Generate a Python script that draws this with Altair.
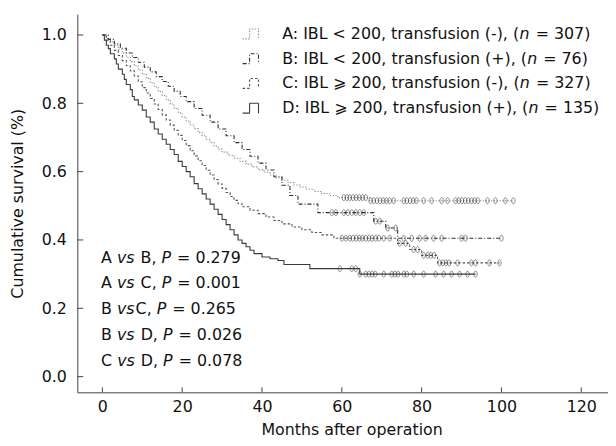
import altair as alt
import pandas as pd

FONT = "DejaVu Sans"

# ---------------- data ----------------
groups = ["A", "B", "C", "D"]

a_time = [0, 1, 2, 3, 4, 5, 6, 7, 8, 9, 10, 11, 12, 13, 14, 15, 16, 17, 18, 19, 20, 21, 22, 23, 24, 25, 26, 27, 28, 29, 30, 31.5, 33, 34.5, 36, 37.5, 39, 40.5, 42, 43.5, 45, 46.5, 48, 49.5, 51, 53, 55, 57, 59, 67]
a_surv = [1.0, 0.99, 0.98, 0.97, 0.958, 0.947, 0.935, 0.922, 0.91, 0.897, 0.885, 0.873, 0.86, 0.848, 0.835, 0.823, 0.81, 0.798, 0.785, 0.772, 0.76, 0.748, 0.737, 0.726, 0.715, 0.705, 0.695, 0.685, 0.675, 0.666, 0.657, 0.648, 0.639, 0.63, 0.622, 0.614, 0.606, 0.598, 0.59, 0.582, 0.575, 0.568, 0.561, 0.555, 0.549, 0.542, 0.536, 0.53, 0.524, 0.515]
a_cens = [60.5, 61.3, 62.0, 62.8, 63.6, 64.4, 65.2, 66.0, 67.2, 68.0, 68.8, 69.6, 70.4, 71.2, 72.0, 73.0, 75.5, 76.3, 77.1, 77.9, 78.7, 80.5, 82.5, 85.0, 86.5, 88.5, 89.3, 90.1, 90.9, 91.7, 92.5, 93.3, 94.1, 96.5, 98.5, 101.0, 103.0]

b_time = [0, 1.5, 3, 4.5, 6, 7.5, 9, 10.5, 12, 13.5, 15, 16.5, 18, 19.5, 21, 23, 25, 27, 29, 31, 33, 35, 37, 39, 41, 43, 45, 47, 49, 54, 68, 71, 74]
b_surv = [1.0, 0.987, 0.974, 0.961, 0.947, 0.934, 0.92, 0.906, 0.892, 0.878, 0.864, 0.85, 0.835, 0.82, 0.805, 0.785, 0.765, 0.745, 0.725, 0.705, 0.685, 0.665, 0.645, 0.625, 0.605, 0.585, 0.56, 0.53, 0.505, 0.48, 0.455, 0.435, 0.405]
b_cens = [57.5, 58.5, 60.5, 61.5, 62.5, 63.5, 64.5, 65.5, 68.5, 69.5, 71.5, 73.5, 75.5, 77.5, 79.5, 81.0, 83.0, 85.0, 90.0, 91.0, 100.0]

c_time = [0, 1, 2, 3, 4, 5, 6, 7, 8, 9, 10, 11, 12, 13, 14, 15, 16, 17, 18, 19, 20, 21, 22, 23, 24, 25, 26, 27, 28, 29, 30, 31, 32, 33, 34, 35, 37, 39, 41, 43, 45, 47.5, 50, 52.5, 55, 58, 74, 77, 80, 84]
c_surv = [1.0, 0.985, 0.97, 0.955, 0.94, 0.925, 0.91, 0.895, 0.88, 0.863, 0.846, 0.83, 0.814, 0.798, 0.782, 0.766, 0.751, 0.736, 0.721, 0.706, 0.691, 0.676, 0.661, 0.646, 0.632, 0.618, 0.604, 0.59, 0.577, 0.564, 0.551, 0.539, 0.527, 0.516, 0.506, 0.497, 0.487, 0.477, 0.467, 0.457, 0.447, 0.438, 0.43, 0.422, 0.415, 0.405, 0.39, 0.372, 0.355, 0.333]
c_cens = [60.0, 61.0, 62.0, 62.8, 63.6, 64.4, 65.2, 66.0, 66.8, 67.6, 68.5, 69.3, 70.5, 72.0, 74.5, 76.0, 78.0, 79.0, 80.5, 81.5, 82.3, 83.1, 84.5, 85.3, 86.1, 86.9, 89.0, 92.5, 93.5, 97.0, 99.5]

d_time = [0, 0.5, 1, 1.5, 2, 3, 3.5, 4, 5, 5.5, 6, 7, 7.5, 8, 9, 10, 11, 12, 13, 14, 15, 16, 17, 18, 19, 20, 21, 22, 23, 24, 25, 26, 27, 28, 29, 30, 31, 32, 33, 34, 35, 36, 37, 38, 40, 42, 44, 45.5, 52, 64.5]
d_surv = [1.0, 0.985, 0.97, 0.96, 0.945, 0.93, 0.915, 0.9, 0.885, 0.87, 0.855, 0.84, 0.82, 0.81, 0.795, 0.78, 0.76, 0.745, 0.725, 0.71, 0.695, 0.68, 0.665, 0.65, 0.63, 0.615, 0.6, 0.585, 0.565, 0.55, 0.535, 0.52, 0.505, 0.49, 0.475, 0.46, 0.445, 0.43, 0.415, 0.4, 0.39, 0.38, 0.37, 0.36, 0.35, 0.345, 0.34, 0.328, 0.316, 0.3]
d_cens = [59.5, 62.5, 63.5, 64.5, 66.0, 66.8, 67.6, 68.4, 70.5, 72.5, 73.3, 74.1, 75.5, 76.3, 78.0, 80.5, 83.5, 85.5, 87.5, 89.5, 91.5, 93.5]

legend_prefix = ["A: IBL < 200, transfusion (-), (",
                 "B: IBL < 200, transfusion (+), (",
                 "C: IBL \u2a7e 200, transfusion (-), (",
                 "D: IBL \u2a7e 200, transfusion (+), ("]
legend_n = ["307", "76", "327", "135"]

cmp_first = ["A ", "A ", "B ", "B ", "C "]
cmp_second = [" B, ", " C, ", "C, ", " D, ", " D, "]
p_values = ["0.279", "0.001", "0.265", "0.026", "0.078"]

x_ticks = [0, 20, 40, 60, 80, 100, 120]
y_ticks = [0.0, 0.2, 0.4, 0.6, 0.8, 1.0]

# ---------------- styling ----------------
W, H = 536, 382
XDOM = [-6.28, 126.7]
YDOM = [-0.046, 1.061]
line_colors = ["#8a8a8a", "#2e2e2e", "#555555", "#3a3a3a"]
line_dash = [[1.2, 1.6], [4, 2, 1, 2], [2.5, 2], [1, 0]]
line_width = [1.1, 1.1, 1.1, 1.4]
ELLIPSE = "M0,-1A0.55,1,0,1,1,0,1A0.55,1,0,1,1,0,-1Z"
FS = 16

# advance widths (em) of DejaVu Sans, used to place the italic pieces
_W = {' ': .318, '(': .390, ')': .390, ',': .318, '-': .361, '.': .318, ':': .337,
      '<': .838, '=': .838, '+': .838, '\u2a7e': .838, 'A': .684, 'B': .686, 'C': .698,
      'D': .770, 'I': .295, 'L': .557, 'P': .603, 'a': .613, 'e': .615, 'f': .352,
      'i': .278, 'n': .634, 'o': .612, 'r': .411, 's': .521, 't': .392, 'u': .634, 'v': .592}


def tw(s, size):
    return sum(_W.get(c, 0.636) for c in s) * size


series = {"A": (a_time, a_surv, a_cens), "B": (b_time, b_surv, b_cens),
          "C": (c_time, c_surv, c_cens), "D": (d_time, d_surv, d_cens)}

rows, cens_rows = [], []
for g in groups:
    t, s, c = series[g]
    for ti, si in zip(t, s):
        rows.append({"g": g, "t": ti, "s": si})
    rows.append({"g": g, "t": max(c), "s": s[-1]})
    for ct in c:
        lvl = [si for ti, si in zip(t, s) if ti <= ct][-1]
        cens_rows.append({"g": g, "t": ct, "s": lvl})
curves = pd.DataFrame(rows)
cens = pd.DataFrame(cens_rows)

xs = alt.Scale(domain=XDOM, nice=False, zero=False)
ys = alt.Scale(domain=YDOM, nice=False, zero=False)
col = alt.Scale(domain=groups, range=line_colors)
dash = alt.Scale(domain=groups, range=line_dash)
wid = alt.Scale(domain=groups, range=line_width)

lines = alt.Chart(curves).mark_line(interpolate="step-after").encode(
    x=alt.X("t:Q", scale=xs, title="Months after operation",
            axis=alt.Axis(values=x_ticks, titleX=277, titleY=38, titleBaseline="middle")),
    y=alt.Y("s:Q", scale=ys, title="Cumulative survival (%)",
            axis=alt.Axis(values=y_ticks, format=".1f", titleX=-60, titleBaseline="middle")),
    color=alt.Color("g:N", scale=col, legend=None),
    strokeDash=alt.StrokeDash("g:N", scale=dash, legend=None),
    strokeWidth=alt.StrokeWidth("g:N", scale=wid, legend=None),
    detail="g:N",
)

marks = alt.Chart(cens).mark_point(shape=ELLIPSE, size=38, filled=False, strokeWidth=0.8,
                                   color="#333333").encode(
    x=alt.X("t:Q", scale=xs), y=alt.Y("s:Q", scale=ys))

ytick = alt.Chart(pd.DataFrame({"v": y_ticks})).mark_rule(color="#444", strokeWidth=1).encode(
    y=alt.Y("v:Q", scale=ys), x=alt.value(0), x2=alt.value(6))
xtick = alt.Chart(pd.DataFrame({"v": x_ticks})).mark_rule(color="#444", strokeWidth=1).encode(
    x=alt.X("v:Q", scale=xs), y=alt.value(H), y2=alt.value(H - 5))

# ---------- legend (drawn in pixel space) ----------
LEG_X, LEG_Y, LEG_DY = 167, 20, 25
icon_shape = [(0, 5), (7, 5), (7, -5), (16, -5), (16, 5)]
icon_rows = []
for i, g in enumerate(groups):
    for k, (dx, dy) in enumerate(icon_shape):
        icon_rows.append({"g": g, "k": k, "px": LEG_X + dx, "py": LEG_Y + i * LEG_DY + dy})
icons = alt.Chart(pd.DataFrame(icon_rows)).mark_line(strokeWidth=1.1).encode(
    x=alt.X("px:Q", scale=None), y=alt.Y("py:Q", scale=None),
    color=alt.Color("g:N", scale=col, legend=None),
    strokeDash=alt.StrokeDash("g:N", scale=dash, legend=None),
    order="k:Q", detail="g:N")

text_rows = []


def add_pieces(x, y, pieces):
    for txt, st in pieces:
        lead = txt[:len(txt) - len(txt.lstrip())]
        text_rows.append({"txt": txt.strip(), "px": x + tw(lead, FS), "py": y, "it": st})
        x += tw(txt, FS) + (1 if st == "italic" else 0)


TX = 207
for i in range(4):
    add_pieces(TX, LEG_Y + i * LEG_DY,
               [(legend_prefix[i], "normal"), ("n", "italic"), (" = " + legend_n[i] + ")", "normal")])

# ---------- comparison block ----------
P_X, P_Y, P_DY = 24, 246, 26
for i in range(5):
    add_pieces(P_X, P_Y + i * P_DY,
               [(cmp_first[i], "normal"), ("vs", "italic"), (cmp_second[i], "normal"),
                ("P", "italic"), (" = " + p_values[i], "normal")])
texts = pd.DataFrame(text_rows)


def text_layer(style):
    return alt.Chart(texts[texts["it"] == style]).mark_text(
        align="left", baseline="middle", font=FONT, fontSize=FS, fontStyle=style,
        color="#111").encode(
        x=alt.X("px:Q", scale=None), y=alt.Y("py:Q", scale=None), text="txt:N")


chart = alt.layer(lines, marks, ytick, xtick, icons, text_layer("normal"), text_layer("italic")).properties(
    width=W, height=H,
    autosize=alt.AutoSizeParams(type="none"),
    padding={"left": 70, "top": 4, "right": 0, "bottom": 52},
).configure_view(stroke=None).configure_axis(
    grid=False, ticks=False, tickSize=0, domainColor="#444", domainWidth=1,
    labelFont=FONT, labelFontSize=FS, labelColor="#111",
    titleFont=FONT, titleFontSize=FS, titleFontWeight="normal", titleColor="#111",
).configure_axisY(labelPadding=11).configure_axisX(labelPadding=6)

chart.save("out.html", embed_options={"renderer": "svg", "actions": False})
